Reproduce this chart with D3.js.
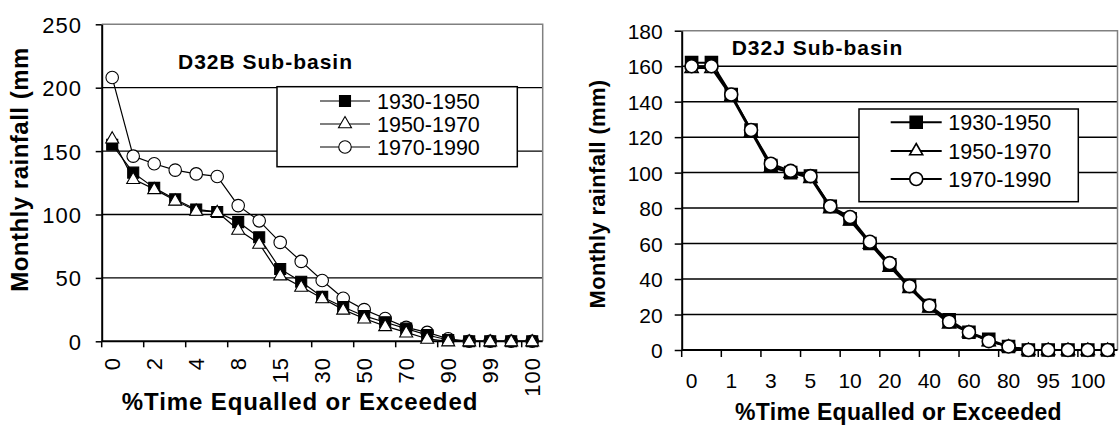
<!DOCTYPE html>
<html><head><meta charset="utf-8">
<script src="https://cdn.jsdelivr.net/npm/d3@7"></script>
<style>
html,body{margin:0;padding:0;background:#fff;}
svg{display:block;font-family:"Liberation Sans",Arial,sans-serif;}
</style></head><body>
<svg id="chart" width="1119" height="426"></svg>
<script>
// ---------- data ----------
const seriesNames = ["1930-1950", "1950-1970", "1970-1990"];

// D32B sub-basin (left)
const categoriesB = ["0","1","2","3","4","6","8","10","15","20","30","40","50","60","70","80","90","95","99","99.9","100"];
const tickLabelsB = ["0","2","4","8","15","30","50","70","90","99","100"];
const rain1930B = [155,133,121,112,104,102,94,82,57,47,35,27,20,15,10,5,1,0,0,0,0];
const rain1950B = [160,128,120,111,103,102,88,77,52,43,34,25,18,12,7,2,0,0,0,0,0];
const rain1970B = [208,146,140,135,132,130,107,95,78,63,48,34,25,18,11,7,2,0,0,0,0];
const yTicksB = [0,50,100,150,200,250];

// D32J sub-basin (right)
const categoriesJ = ["0","0.5","1","2","3","4","5","7","10","15","20","30","40","50","60","70","80","90","95","99","100","100"];
const tickLabelsJ = ["0","1","3","5","10","20","40","60","80","95","100"];
const rain1930J = [162,162,144,124,104,100,98,81,74,60,48,36,25,17,10,6,2,0,0,0,0,0];
const rain1950J = [159,159,143,123,103,100,97,80,73,60,47,35,24,15,10,5,2,0,0,0,0,0];
const rain1970J = [160,160,144,124,105,101,98,81,75,61,49,36,25,16,10,5,2,0,0,0,0,0];
const yTicksJ = [0,20,40,60,80,100,120,140,160,180];

const titleB = "D32B Sub-basin";
const titleJ = "D32J Sub-basin";
const xTitle = "%Time Equalled or Exceeded";
const yTitleB = "Monthly rainfall (mm";
const yTitleJ = "Monthly rainfall (mm)";

// ---------- drawing ----------
const svg = d3.select("#chart");
const markerTypes = [d3.symbolSquare, d3.symbolTriangle, d3.symbolCircle];
const markerFill = ["#000", "#fff", "#fff"];

function markerPath(k, s) {
  // s: nominal marker width in px
  if (k === 0) return d3.symbol(d3.symbolSquare, s * s)();
  if (k === 1) return d3.symbol(d3.symbolTriangle, Math.sqrt(3) / 4 * s * s)();
  return d3.symbol(d3.symbolCircle, Math.PI * (s / 2) * (s / 2))();
}

function panel(cfg) {
  const n = cfg.cats.length;
  const x = d3.scaleBand().domain(d3.range(n)).range([cfg.left, cfg.right]).padding(0);
  const y = d3.scaleLinear().domain([0, cfg.yMax]).range([cfg.bottom, cfg.top]);
  const bw = x.bandwidth();
  const cx = i => x(i) + bw / 2;
  const g = svg.append("g");

  g.append("rect").attr("x", cfg.left).attr("y", cfg.top)
    .attr("width", cfg.right - cfg.left).attr("height", cfg.bottom - cfg.top)
    .attr("fill", "#fff");

  // gridlines
  g.selectAll("line.grid").data(cfg.yTicks.filter(v => v > 0 && v < cfg.yMax)).join("line")
    .attr("class", "grid")
    .attr("x1", cfg.left).attr("x2", cfg.right)
    .attr("y1", d => y(d)).attr("y2", d => y(d))
    .attr("stroke", "#000").attr("stroke-width", cfg.gridW);

  // plot border (top/right)
  g.append("path")
    .attr("d", `M${cfg.left},${y(cfg.yMax)}H${cfg.right}V${cfg.bottom}`)
    .attr("fill", "none").attr("stroke", "#808080").attr("stroke-width", 1.5);

  // y axis
  const ya = d3.axisLeft(y).tickValues(cfg.yTicks).tickSizeInner(cfg.tickLen).tickSizeOuter(0)
    .tickPadding(cfg.yPad).tickFormat(d3.format("d"));
  const yg = g.append("g").attr("transform", `translate(${cfg.left},0)`).call(ya);
  yg.select(".domain").attr("stroke", "#000").attr("stroke-width", 2);
  yg.selectAll(".tick line").attr("stroke", "#000").attr("stroke-width", 1.5);
  yg.selectAll(".tick text").attr("fill", "#000")
    .style("font-size", cfg.tickFont + "px").style("letter-spacing", cfg.tickLS + "px")
    .attr("dy", "0.36em");

  // x axis line
  g.append("line").attr("x1", cfg.left).attr("x2", cfg.right)
    .attr("y1", y(0)).attr("y2", y(0)).attr("stroke", "#000").attr("stroke-width", 2);

  // x tick marks at category boundaries, every second category
  const evenIdx = d3.range(0, n, 2).slice(0, cfg.tickLabels.length);
  g.selectAll("line.xt").data(evenIdx).join("line").attr("class", "xt")
    .attr("x1", d => x(d)).attr("x2", d => x(d))
    .attr("y1", y(0)).attr("y2", y(0) + cfg.tickLen)
    .attr("stroke", "#000").attr("stroke-width", 1.5);

  // x labels
  const xa = d3.axisBottom(x).tickValues(evenIdx).tickSize(0)
    .tickFormat((d, i) => cfg.tickLabels[i]);
  const xg = g.append("g").attr("transform", `translate(0,${y(0)})`).call(xa);
  xg.select(".domain").remove();
  const xt = xg.selectAll(".tick text").attr("fill", "#000")
    .style("font-size", cfg.tickFont + "px").style("letter-spacing", cfg.tickLS + "px");
  if (cfg.rotateX) {
    xt.attr("transform", "rotate(-90)").attr("text-anchor", "end")
      .attr("x", -cfg.xLabOff).attr("y", 0).attr("dy", "0.36em").attr("dx", 0);
  } else {
    xt.attr("y", cfg.xLabOff).attr("dy", 0);
  }

  // series lines
  const line = d3.line().x((d, i) => cx(i)).y(d => y(d));
  cfg.series.forEach(s => {
    g.append("path").datum(s.values).attr("d", line)
      .attr("fill", "none").attr("stroke", "#000").attr("stroke-width", cfg.lineW)
      .attr("stroke-linejoin", "round");
  });
  // markers
  cfg.drawOrder.forEach(k => {
    const s = cfg.series[k];
    g.selectAll(null).data(s.values).join("path")
      .attr("d", markerPath(k, cfg.markSize[k]))
      .attr("transform", (d, i) => `translate(${cx(i)},${y(d) + (k === 1 ? cfg.markSize[1] * 0.06 : 0)})`)
      .attr("fill", markerFill[k]).attr("stroke", "#000").attr("stroke-width", cfg.markStroke);
  });

  // legend
  const L = cfg.legend;
  g.append("rect").attr("x", L.x).attr("y", L.y).attr("width", L.w).attr("height", L.h)
    .attr("fill", "#fff").attr("stroke", "#000").attr("stroke-width", 1.5);
  cfg.series.forEach((s, k) => {
    const ry = L.rows[k];
    g.append("line").attr("x1", L.lx1).attr("x2", L.lx2).attr("y1", ry).attr("y2", ry)
      .attr("stroke", "#000").attr("stroke-width", cfg.lineW);
    g.append("path").attr("d", markerPath(k, cfg.markSize[k]))
      .attr("transform", `translate(${(L.lx1 + L.lx2) / 2},${ry})`)
      .attr("fill", markerFill[k]).attr("stroke", "#000").attr("stroke-width", cfg.markStroke);
    g.append("text").attr("x", L.tx).attr("y", ry).attr("dy", "0.36em")
      .style("font-size", L.font + "px").text(s.name);
  });

  // chart title
  g.append("text").attr("x", cfg.title.x).attr("y", cfg.title.y)
    .style("font-size", cfg.title.font + "px").style("font-weight", "bold")
    .style("letter-spacing", cfg.title.ls + "px").text(cfg.title.text);

  // axis titles
  g.append("text").attr("x", cfg.xTitle.x).attr("y", cfg.xTitle.y).attr("text-anchor", "middle")
    .style("font-size", cfg.xTitle.font + "px").style("font-weight", "bold")
    .style("letter-spacing", cfg.xTitle.ls + "px").text(xTitle);
  g.append("text")
    .attr("transform", `translate(${cfg.yTitle.x},${cfg.yTitle.y}) rotate(-90)`)
    .attr("text-anchor", "middle")
    .style("font-size", cfg.yTitle.font + "px").style("font-weight", "bold")
    .style("letter-spacing", cfg.yTitle.ls + "px").text(cfg.yTitle.text);
}

panel({
  cats: categoriesB, tickLabels: tickLabelsB, yTicks: yTicksB, yMax: 250,
  left: 101.7, right: 542.7, top: 24.3, bottom: 341.3,
  gridW: 1.3, tickLen: 6, yPad: 13.7, tickFont: 22, tickLS: 1,
  rotateX: true, xLabOff: 15.7, lineW: 1.2, markStroke: 1.1,
  markSize: [11, 13, 12.5], drawOrder: [2, 0, 1],
  series: [
    { name: seriesNames[0], values: rain1930B },
    { name: seriesNames[1], values: rain1950B },
    { name: seriesNames[2], values: rain1970B }
  ],
  legend: { x: 277, y: 86.7, w: 240.3, h: 80, rows: [101, 124, 147], lx1: 320, lx2: 370, tx: 377, font: 21.5 },
  title: { text: titleB, x: 178, y: 69, font: 21, ls: 1 },
  xTitle: { x: 300, y: 410, font: 24, ls: 0.9 },
  yTitle: { text: yTitleB, x: 28.3, y: 169.5, font: 24, ls: 0.5 }
});

panel({
  cats: categoriesJ, tickLabels: tickLabelsJ, yTicks: yTicksJ, yMax: 180,
  left: 681.7, right: 1117.5, top: 30.7, bottom: 350,
  gridW: 1.5, tickLen: 7, yPad: 12, tickFont: 21, tickLS: 0,
  rotateX: false, xLabOff: 38, lineW: 2, markStroke: 1.6,
  markSize: [12, 13, 13], drawOrder: [1, 0, 2],
  series: [
    { name: seriesNames[0], values: rain1930J },
    { name: seriesNames[1], values: rain1950J },
    { name: seriesNames[2], values: rain1970J }
  ],
  legend: { x: 859, y: 109, w: 219.3, h: 92.7, rows: [122.3, 151, 179], lx1: 890.7, lx2: 941.7, tx: 948.3, font: 21.5 },
  title: { text: titleJ, x: 731.7, y: 55, font: 21, ls: 1 },
  xTitle: { x: 898.5, y: 420, font: 23, ls: 0.3 },
  yTitle: { text: yTitleJ, x: 605, y: 194, font: 22, ls: 0.3 }
});
</script>
</body></html>
